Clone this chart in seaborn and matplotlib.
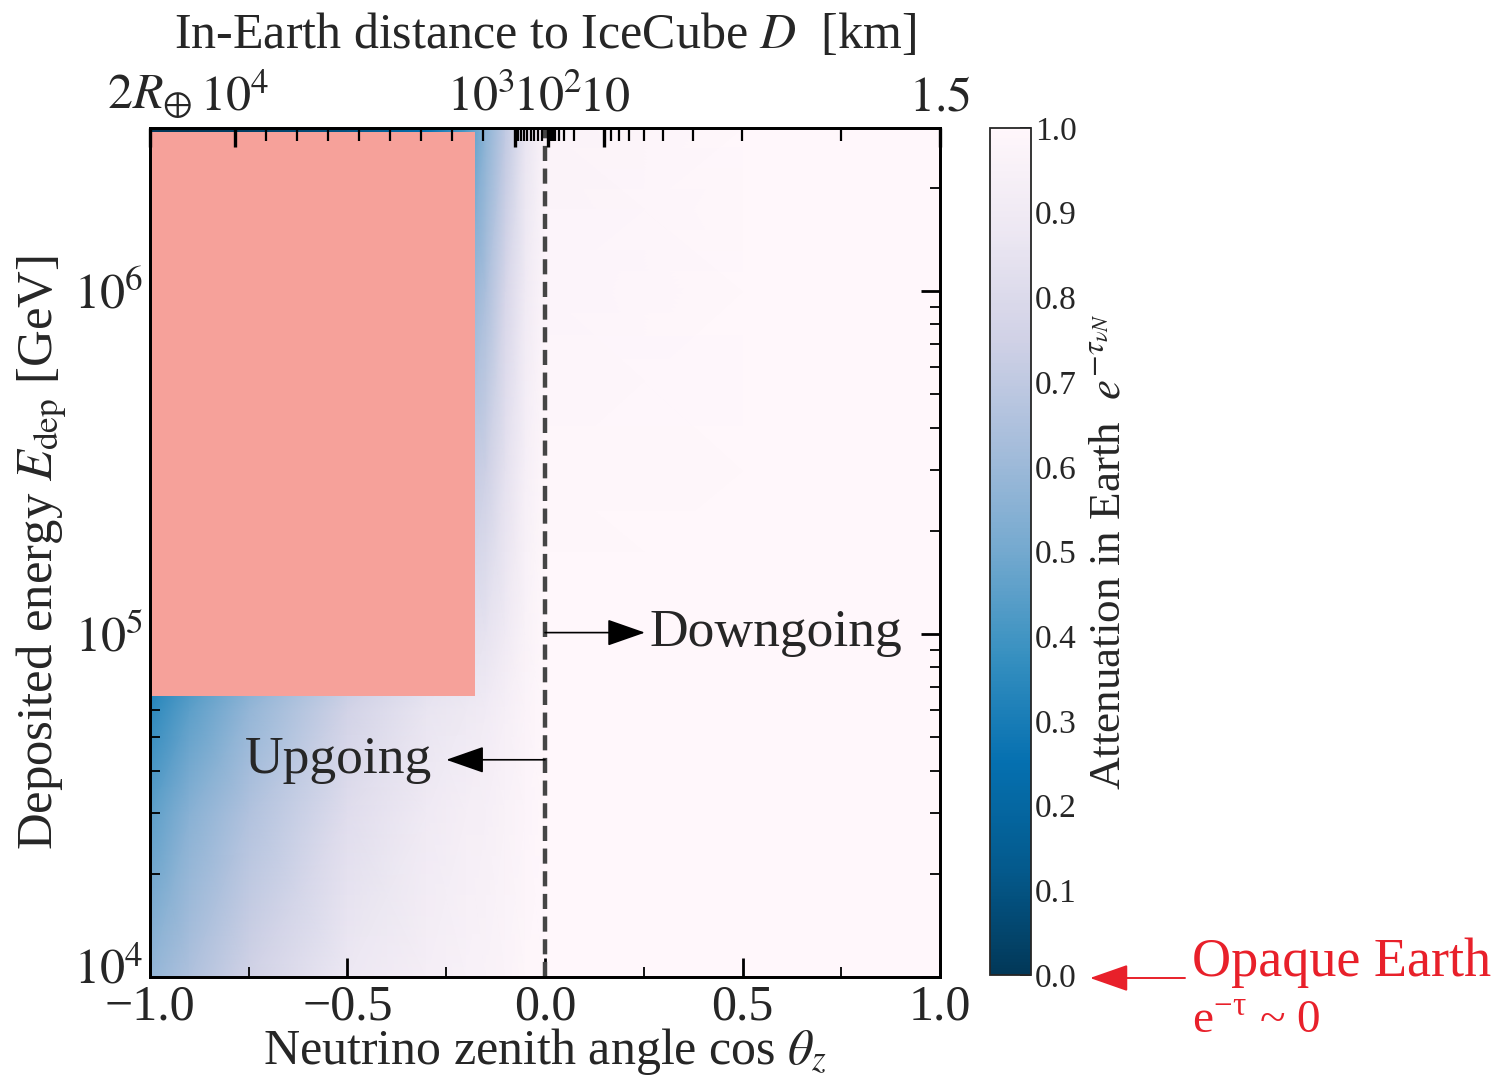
import numpy as np
import matplotlib
matplotlib.use("Agg")
import matplotlib.pyplot as plt
import matplotlib.ticker as mticker
import matplotlib.transforms as mtransforms
from matplotlib.patches import Rectangle, FancyArrowPatch
import seaborn as sns

# ---- data -------------------------------------------------------------
# zenith-angle grid (cos theta_z) and deposited-energy grid [GeV]
cos_zenith = [-1.0, -0.9, -0.75, -0.5, -0.3, -0.2, -0.15, -0.1, -0.05, 0.0, 0.5, 1.0]
energy_dep = [1e4, 3e4, 6e4, 1e5, 3e5, 1e6, 3e6]

# Earth attenuation exp(-tau) on that grid (rows follow energy_dep)
atten_1e4 = [0.58, 0.65, 0.75, 0.88, 0.93, 0.95, 0.96, 0.97, 0.99, 1.0, 1.0, 1.0]
atten_3e4 = [0.45, 0.55, 0.66, 0.82, 0.90, 0.93, 0.94, 0.96, 0.98, 1.0, 1.0, 1.0]
atten_6e4 = [0.35, 0.45, 0.58, 0.76, 0.86, 0.89, 0.91, 0.94, 0.97, 1.0, 1.0, 1.0]
atten_1e5 = [0.25, 0.35, 0.48, 0.66, 0.78, 0.83, 0.85, 0.90, 0.96, 1.0, 1.0, 1.0]
atten_3e5 = [0.10, 0.18, 0.30, 0.48, 0.62, 0.70, 0.74, 0.84, 0.94, 0.99, 1.0, 1.0]
atten_1e6 = [0.03, 0.06, 0.12, 0.26, 0.42, 0.56, 0.64, 0.78, 0.90, 0.98, 1.0, 1.0]
atten_3e6 = [0.00, 0.01, 0.03, 0.10, 0.25, 0.42, 0.56, 0.70, 0.86, 0.97, 1.0, 1.0]

# energy tick marks and labels
energy_ticks = [1e4, 1e5, 1e6]
energy_labels = [r"$10^4$", r"$10^5$", r"$10^6$"]

# in-Earth distance D [km] marked on the top axis, and their labels
dist_major = [12740.5, 1e4, 1e3, 1e2, 10.0, 1.5]
dist_major_labels = [r"$2R_{\oplus}$", r"$10^4$", r"$10^3$", r"$10^2$", r"$10$", r"$1.5$"]
dist_minor = [m * 10.0 ** k for k in range(0, 4) for m in range(2, 10) if m * 10.0 ** k > 1.5]

# masked block covering the upper-left corner of the map
mask_cos = [-1.0, -0.177]
mask_energy = [6.6e4, 2.92e6]

# ---- geometry ---------------------------------------------------------
R_EARTH = 6371.0   # km
DEPTH = 1.5        # detector depth [km]


def dist_to_cos(D):
    D = np.asarray(D, dtype=float)
    return (2 * R_EARTH * DEPTH - DEPTH ** 2 - D ** 2) / (2 * D * (R_EARTH - DEPTH))


# ---- style ------------------------------------------------------------
sns.set_theme(style="ticks")
plt.rcParams["font.family"] = ["Liberation Serif", "DejaVu Serif"]
plt.rcParams["mathtext.fontset"] = "stix"
plt.rcParams["axes.unicode_minus"] = True

cmap = sns.color_palette("PuBu_r", as_cmap=True)

fig = plt.figure(figsize=(14.95, 10.76), dpi=100)
ax = fig.add_axes([0.1003, 0.0920, 0.5285, 0.7890])
cax = fig.add_axes([0.6622, 0.0938, 0.0274, 0.7872])

X, Y = np.meshgrid(cos_zenith, energy_dep)
Z = np.array([atten_1e4, atten_3e4, atten_6e4, atten_1e5, atten_3e5, atten_1e6, atten_3e6])

ax.set_yscale("log")
mesh = ax.pcolormesh(X, Y, Z, cmap=cmap, vmin=0.0, vmax=1.0, shading="gouraud", zorder=0)
ax.set_xlim(-1.0, 1.0)
ax.set_ylim(1e4, 2.99e6)

# masked block
ax.add_patch(Rectangle((mask_cos[0], mask_energy[0]), mask_cos[1] - mask_cos[0],
                       mask_energy[1] - mask_energy[0], facecolor="#f6a19a",
                       edgecolor="none", zorder=2))

# horizon line
ax.axvline(0.0, color="#454545", lw=3.2, ls=(0, (3.4, 1.7)), zorder=3)

# direction arrows
arrow_kw = dict(arrowstyle="-|>,head_length=1.2,head_width=0.42", mutation_scale=20,
                color="black", lw=1.2, shrinkA=0, shrinkB=0)
ax.annotate("", xy=(0.253, 1.01e5), xytext=(0.0, 1.01e5), zorder=4, arrowprops=arrow_kw)
ax.text(0.265, 1.01e5, "Downgoing", fontsize=38.5, va="center", ha="left", zorder=4)
ax.annotate("", xy=(-0.25, 4.3e4), xytext=(0.0, 4.3e4), zorder=4, arrowprops=arrow_kw)
ax.text(-0.285, 4.3e4, "Upgoing", fontsize=38.5, va="center", ha="right", zorder=4)

# bottom / left axes
ax.set_xticks([-1.0, -0.5, 0.0, 0.5, 1.0])
ax.set_xticklabels(["\u22121.0", "\u22120.5", "0.0", "0.5", "1.0"])
ax.xaxis.set_minor_locator(mticker.FixedLocator([-0.75, -0.25, 0.25, 0.75]))
ax.set_yticks(energy_ticks)
ax.set_yticklabels(energy_labels)
ax.yaxis.set_minor_locator(mticker.LogLocator(base=10, subs=np.arange(2, 10), numticks=20))
ax.yaxis.set_minor_formatter(mticker.NullFormatter())
ax.tick_params(axis="both", which="major", direction="in", length=14, width=2,
               labelsize=36, right=True, pad=5, color="black")
ax.tick_params(axis="both", which="minor", direction="in", length=7, width=1.3,
               right=True, color="black")
ax.tick_params(axis="x", which="both", top=False)
for s in ax.spines.values():
    s.set_linewidth(2)
    s.set_color("black")
    s.set_zorder(5)

# lift the lowest energy label a little off the cos-axis labels
low_label = ax.yaxis.get_major_ticks()[0].label1
low_label.set_transform(low_label.get_transform()
                        + mtransforms.ScaledTranslation(0, 8 / 72, fig.dpi_scale_trans))

ax.set_xlabel(r"Neutrino zenith angle cos $\theta_z$", fontsize=36, labelpad=-3)
ax.set_ylabel(r"Deposited energy $E_{\rm dep}$ [GeV]", fontsize=36.5, labelpad=3)

# top axis: distance travelled inside the Earth
top = ax.twiny()
top.set_xlim(-1.0, 1.0)
top.set_xticks(dist_to_cos(dist_major))
top.set_xticklabels(dist_major_labels)
top.xaxis.set_minor_locator(mticker.FixedLocator(dist_to_cos(dist_minor)))
top.tick_params(which="major", direction="in", length=14, width=2.4, labelsize=36, pad=5,
                color="black")
top.tick_params(which="minor", direction="in", length=9, width=1.6, color="black")
for lab, D in zip(top.get_xticklabels(), dist_major):
    if D == 1e3:
        lab.set_ha("right")
for s in top.spines.values():
    s.set_linewidth(2)
    s.set_color("black")
top.set_xlabel(r"In-Earth distance to IceCube $D$  [km]", fontsize=36, labelpad=18)

# colour bar
cb = fig.colorbar(mesh, cax=cax)
cb.set_ticks(np.arange(0, 1.01, 0.1))
cb.ax.yaxis.set_major_formatter(mticker.FormatStrFormatter("%.1f"))
cb.ax.tick_params(direction="in", length=8, width=1.2, labelsize=24, pad=3, color="black")
cb.outline.set_linewidth(1.3)
cb.set_label(r"Attenuation in Earth  $e^{-\tau_{\nu N}}$", fontsize=32.5, labelpad=8)

# opaque-Earth marker next to the colour bar
red = "#e8202a"
fig.patches.append(FancyArrowPatch(
    (1185 / 1495, 1 - 978 / 1076), (1090 / 1495, 1 - 978 / 1076),
    transform=fig.transFigure, arrowstyle="-|>,head_length=1.2,head_width=0.42",
    mutation_scale=20, color=red, lw=1.4, shrinkA=0, shrinkB=0))
fig.text(1192 / 1495, 1 - 963 / 1076, "Opaque Earth", color=red, fontsize=39,
         ha="left", va="center")
fig.text(1192 / 1495, 1 - 1022 / 1076, r"e$^{\mathregular{-\tau}}$ ~ 0", color=red,
         fontsize=34, ha="left", va="center")

fig.savefig("out.png", dpi=100)
